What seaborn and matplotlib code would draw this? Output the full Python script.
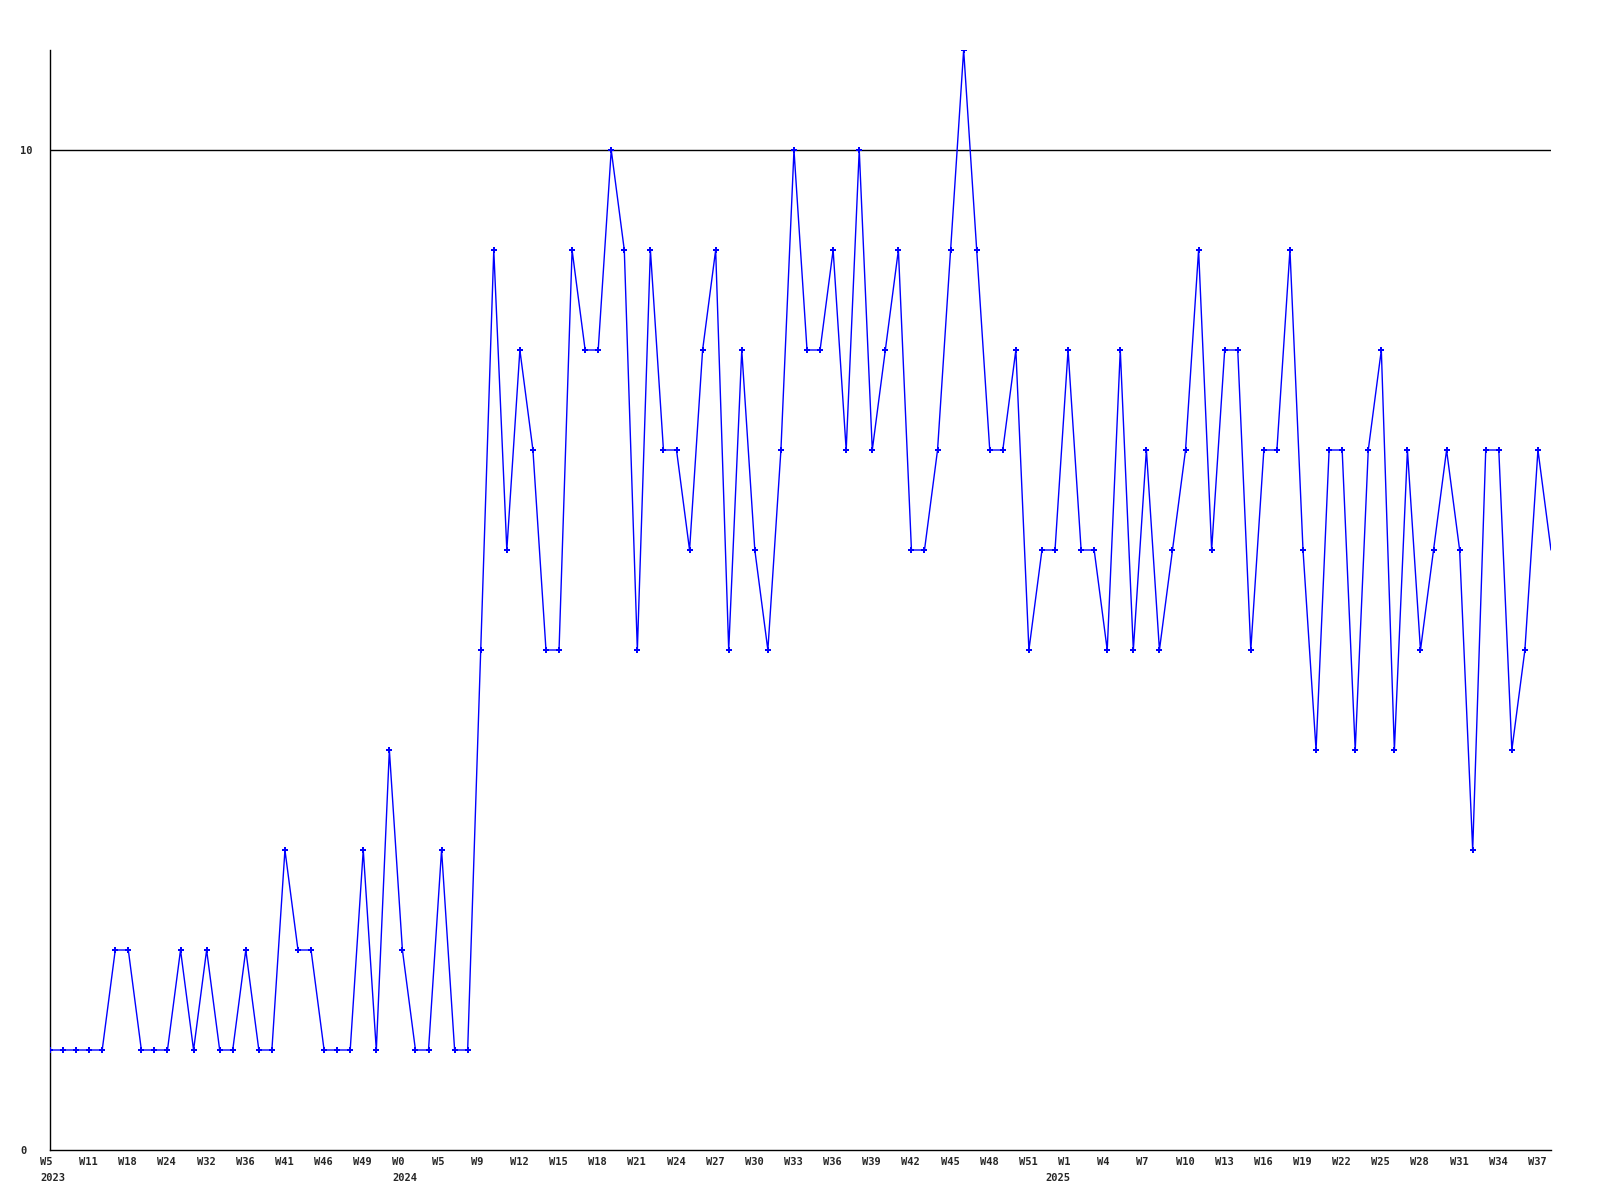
import numpy as np
import seaborn as sns
import matplotlib.pyplot as plt
import matplotlib.transforms as mtransforms

# weekly counts, one value per sample point
values = [1, 1, 1, 1, 1, 2, 2, 1, 1, 1,
          2, 1, 2, 1, 1, 2, 1, 1, 3, 2,
          2, 1, 1, 1, 3, 1, 4, 2, 1, 1,
          3, 1, 1, 5, 9, 6, 8, 7, 5, 5,
          9, 8, 8, 10, 9, 5, 9, 7, 7, 6,
          8, 9, 5, 8, 6, 5, 7, 10, 8, 8,
          9, 7, 10, 7, 8, 9, 6, 6, 7, 9,
          11, 9, 7, 7, 8, 5, 6, 6, 8, 6,
          6, 5, 8, 5, 7, 5, 6, 7, 9, 6,
          8, 8, 5, 7, 7, 9, 6, 4, 7, 7,
          4, 7, 8, 4, 7, 5, 6, 7, 6, 3,
          7, 7, 4, 5, 7, 6]

# week labels, every third point
week_labels = ["W5", "W11", "W18", "W24", "W32", "W36", "W41", "W46", "W49",
               "W0", "W5", "W9", "W12", "W15", "W18", "W21", "W24", "W27",
               "W30", "W33", "W36", "W39", "W42", "W45", "W48", "W51",
               "W1", "W4", "W7", "W10", "W13", "W16", "W19", "W22", "W25",
               "W28", "W31", "W34", "W37"]
week_step = 3

# year labels and the point index they sit under
years = ["2023", "2024", "2025"]
year_idx = [0, 27, 77]

y_ticks = [0, 10]

x = np.arange(len(values))

sns.set_style("white")
lab_font = dict(family="DejaVu Sans Mono", weight="bold", size=7.5)

fig = plt.figure(figsize=(16, 12), dpi=100)
ax = fig.add_axes([50 / 1600, 50 / 1200, 1501 / 1600, 1100 / 1200])

# reference line at 10
ax.axhline(10, color="black", linewidth=1, zorder=1)

# last point sits on the edge without a marker in the original
sns.lineplot(x=x, y=values, ax=ax, color="#0000ff", linewidth=1,
             marker="P", markersize=3.8, markeredgewidth=0,
             markevery=list(range(len(values) - 1)), zorder=3)

ax.set_xlim(0, len(values) - 1)
ax.set_ylim(0, 11)

for side in ["top", "right"]:
    ax.spines[side].set_visible(False)
for side in ["left", "bottom"]:
    ax.spines[side].set_color("black")
    ax.spines[side].set_linewidth(1)

# y ticks, left aligned like the original
ax.set_yticks(y_ticks)
ax.set_yticklabels([str(v) for v in y_ticks], **lab_font)
ax.tick_params(axis="y", length=0, pad=21.6)
for lbl in ax.get_yticklabels():
    lbl.set_horizontalalignment("left")

# x ticks: week labels shifted a bit left
ax.set_xticks(x[::week_step][:len(week_labels)])
ax.set_xticklabels(week_labels, **lab_font)
ax.tick_params(axis="x", length=0, pad=5)
shift = mtransforms.ScaledTranslation(-10 / 100, 0, fig.dpi_scale_trans)
for lbl in ax.get_xticklabels():
    lbl.set_horizontalalignment("left")
    lbl.set_transform(lbl.get_transform() + shift)

# year labels on a second row
for yr, i in zip(years, year_idx):
    ax.annotate(yr, xy=(i, 0), xycoords=("data", "axes fraction"),
                xytext=(-7.2, -16.5), textcoords="offset points",
                ha="left", va="top", **lab_font)

ax.set_xlabel("")
ax.set_ylabel("")

plt.savefig("out.png", dpi=100, facecolor="white")
